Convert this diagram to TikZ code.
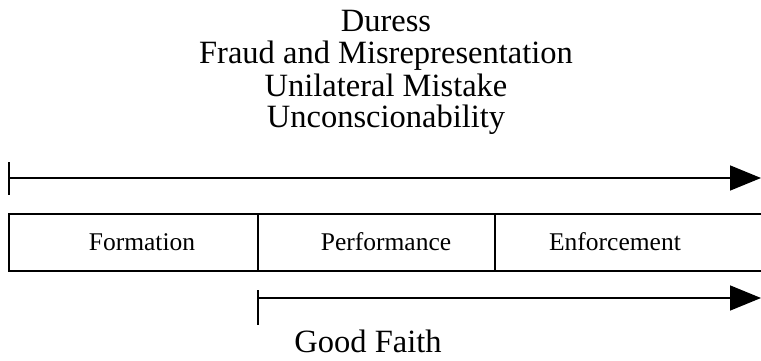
\documentclass[tikz,border=0pt]{standalone}
\usepackage{fontspec}
\setmainfont{Liberation Serif}
\usetikzlibrary{arrows.meta}
\tikzset{>={Triangle[length=31pt,width=25pt]}}
\tikzset{
  bigtext/.style={anchor=base,inner sep=0pt,font=\fontsize{32.5}{33}\selectfont},
  boxtext/.style={anchor=base,inner sep=0pt,font=\fontsize{25.5}{26}\selectfont},
  rangeline/.style={line width=1.6pt},
  rangetick/.style={line width=2.6pt}
}

\begin{document}
\begin{tikzpicture}[x=1pt,y=-1pt]
    \useasboundingbox (0,0) rectangle (761,361);
    % defences that concern the whole life of the contract
    \node[bigtext] (duress) at (386,32) {Duress};
    \node[bigtext] (fraud) at (386,64) {Fraud and Misrepresentation};
    \node[bigtext] (mistake) at (386,96) {Unilateral Mistake};
    \node[bigtext] (unconsc) at (386,128) {Unconscionability};
    \coordinate (topstart) at (9,178);
    \coordinate (topend) at (761,178);
    \draw[rangetick] ([yshift=16]topstart) -- ([yshift=-17]topstart);
    \draw[rangeline,->] (topstart) -- (topend);
    % stages
    \draw[line width=1.5pt] (761,214) -- (9,214) -- (9,271) -- (761,271);
    \draw[line width=1.5pt] (258,214) -- (258,271);
    \draw[line width=1.5pt] (495,214) -- (495,271);
    \node[boxtext] (formation) at (142,250) {Formation};
    \node[boxtext] (performance) at (386,250) {Performance};
    \node[boxtext] (enforcement) at (615,250) {Enforcement};
    % good faith only from performance on
    \coordinate (botstart) at (258,298);
    \coordinate (botend) at (761,298);
    \draw[rangetick] ([yshift=8]botstart) -- ([yshift=-27]botstart);
    \draw[rangeline,->] (botstart) -- (botend);
    \node[bigtext] (goodfaith) at (368,352) {Good Faith};
\end{tikzpicture}
\end{document}
